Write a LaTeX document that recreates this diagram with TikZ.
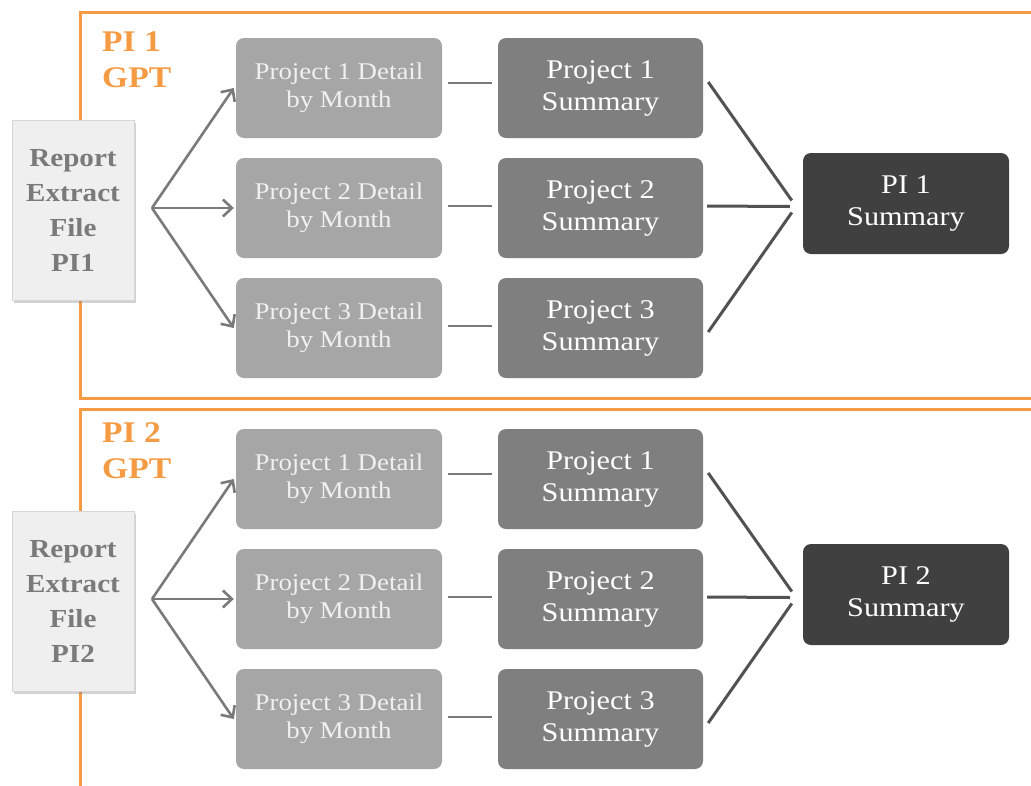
\documentclass[tikz,border=0pt]{standalone}
\usepackage{fontspec}
\setmainfont{Liberation Serif}[FakeStretch=1.12]
\usetikzlibrary{arrows.meta,shadows,calc}
\definecolor{frameorange}{HTML}{F59B43}
\definecolor{detailgray}{HTML}{A6A6A6}
\definecolor{sumgray}{HTML}{7F7F7F}
\definecolor{pigray}{HTML}{404040}
\definecolor{reportfill}{HTML}{EFEFEF}
\definecolor{reportline}{HTML}{D6D6D6}
\definecolor{reporttext}{HTML}{7A7A7A}
\definecolor{arrowgray}{HTML}{7A7A7A}
\definecolor{linkgray}{HTML}{525252}
\begin{document}
\begin{tikzpicture}[x=1pt,y=-1pt,
  frame/.style={draw=frameorange,line width=3pt},
  panellabel/.style={anchor=north west,align=left,text=frameorange,inner sep=0pt,
    font=\bfseries\fontsize{30}{36}\selectfont},
  reportbox/.style={draw=reportline,fill=reportfill,line width=0.6pt,minimum width=122pt,minimum height=180pt,
    align=center,text=reporttext,font=\bfseries\fontsize{26}{35}\selectfont,
    drop shadow={opacity=0.35,shadow xshift=2pt,shadow yshift=-2.5pt}},
  detailbox/.style={fill=detailgray,rounded corners=8pt,minimum width=206pt,minimum height=100pt,
    align=center,text=white!94!black,font=\fontsize{24}{28}\selectfont},
  sumbox/.style={fill=sumgray,rounded corners=8pt,minimum width=205pt,minimum height=100pt,
    align=center,text=white,font=\fontsize{27}{32}\selectfont},
  pibox/.style={fill=pigray,rounded corners=8pt,minimum width=206pt,minimum height=101pt,
    align=center,text=white,font=\fontsize{27}{32}\selectfont},
  fanarrow/.style={draw=arrowgray,line width=2.6pt,-{Straight Barb[length=9pt,width=17pt,line width=2.6pt]}},
  shortlink/.style={draw=arrowgray,line width=2.6pt},
  link/.style={draw=linkgray,line width=3pt}]
\useasboundingbox (0,0) rectangle (1031,785);
\clip (0,0) rectangle (1031,785);
\fill[white] (0,0) rectangle (1031,785);
\draw[frame] (80,12) rectangle (1050,398);
\draw[frame] (80,409) rectangle (1050,820);
\foreach \k/\oy in {1/0,2/391}{
  \node[panellabel] (lab\k) at (102,{31+\oy}) {PI \k\\GPT};
  \node[reportbox] (rep\k) at (73,{210+\oy}) {Report\\Extract\\File\\PI\k};
  \coordinate (fan\k) at (152,{208+\oy});
  \foreach \r/\cy in {1/88,2/208,3/328}{
    \node[detailbox] (d\k\r) at (339,{\cy+\oy}) {Project \r\ Detail\\by Month};
    \node[sumbox] (s\k\r) at (600.5,{\cy+\oy}) {Project \r\\Summary};
  }
  \node[pibox] (p\k) at (906,{203.5+\oy}) {PI \k\\Summary};
  \foreach \r in {1,2,3}{
    \draw[fanarrow] (fan\k) -- ([xshift=-2pt]d\k\r.west);
  }
  \draw[shortlink] ([xshift=6pt,yshift=5pt]d\k1.east) -- ([xshift=-6pt,yshift=5pt]s\k1.west);
  \draw[shortlink] ([xshift=6pt,yshift=2pt]d\k2.east) -- ([xshift=-6pt,yshift=2pt]s\k2.west);
  \draw[shortlink] ([xshift=6pt,yshift=2pt]d\k3.east) -- ([xshift=-6pt,yshift=2pt]s\k3.west);
  \draw[link] ([xshift=5pt,yshift=6pt]s\k1.east) -- ([xshift=-11pt,yshift=3pt]p\k.west);
  \draw[link] ([xshift=4pt,yshift=2pt]s\k2.east) -- ([xshift=-13pt,yshift=-3pt]p\k.west);
  \draw[link] ([xshift=5pt,yshift=-4pt]s\k3.east) -- ([xshift=-11pt,yshift=-9pt]p\k.west);
}
\end{tikzpicture}
\end{document}
